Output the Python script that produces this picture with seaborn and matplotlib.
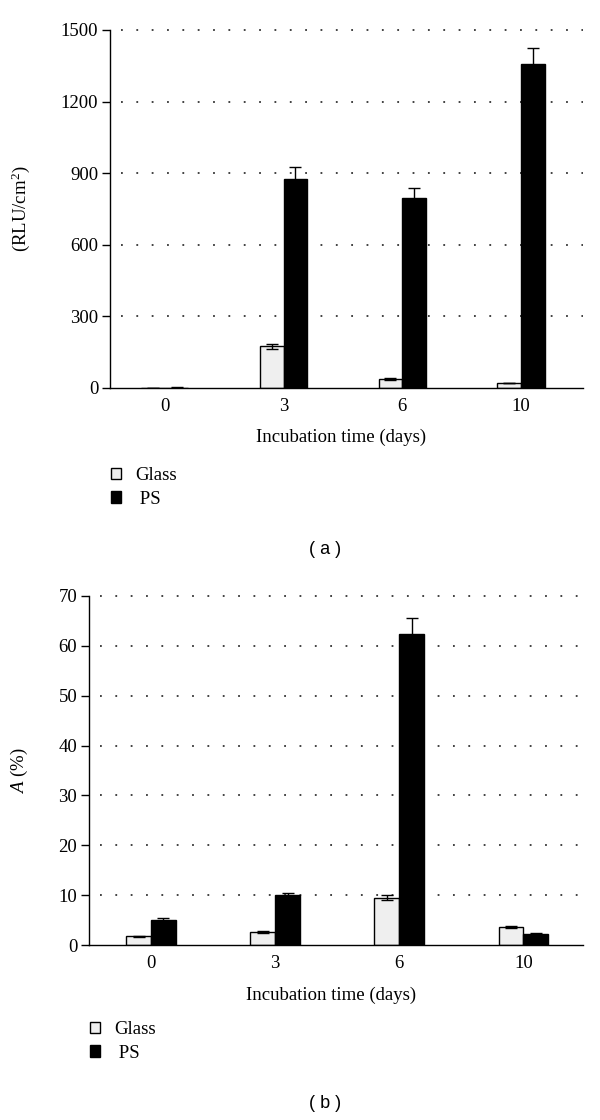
import numpy as np
import pandas as pd
import matplotlib
matplotlib.use("Agg")
import matplotlib.pyplot as plt
import seaborn as sns
from matplotlib.patches import Patch

# ---- data ----
days = ["0", "3", "6", "10"]
materials = ["Glass", "PS"]

rlu_glass = [1, 174, 38, 21]
rlu_glass_err = [1, 11, 4, 2]
rlu_ps = [2, 876, 797, 1356]
rlu_ps_err = [1, 48, 43, 70]

a_glass = [1.75, 2.6, 9.5, 3.55]
a_glass_err = [0.1, 0.15, 0.5, 0.2]
a_ps = [5.0, 9.95, 62.4, 2.25]
a_ps_err = [0.35, 0.55, 3.2, 0.2]

yticks_a = [0, 300, 600, 900, 1200, 1500]
yticks_b = [0, 10, 20, 30, 40, 50, 60, 70]
xlabel_text = "Incubation time (days)"
ylabel_a = r"(RLU/cm$^2$)"
ylabel_b = r"$A$ (%)"
panel_a = "( a )"
panel_b = "( b )"

colors = {"Glass": "#efefef", "PS": "#000000"}

sns.set_theme(style="white")
plt.rcParams["font.family"] = ["Liberation Serif", "DejaVu Serif"]
plt.rcParams["mathtext.fontset"] = "custom"
plt.rcParams["mathtext.rm"] = "Liberation Serif"
plt.rcParams["mathtext.it"] = "Liberation Serif:italic"
for k in ["text.color", "axes.labelcolor", "xtick.color", "ytick.color"]:
    plt.rcParams[k] = "black"

FS = 13.5

fig = plt.figure(figsize=(6, 11.2), dpi=100)
W, H = 600, 1120


def axes_px(left, right, top, bottom):
    return fig.add_axes([left / W, 1 - bottom / H, (right - left) / W, (bottom - top) / H])


def draw(ax, glass, gerr, ps, perr, yticks, ylabel, xlim, width_px):
    df = pd.DataFrame({
        "day": days * 2,
        "material": ["Glass"] * len(days) + ["PS"] * len(days),
        "value": list(glass) + list(ps),
    })
    sns.barplot(data=df, x="day", y="value", hue="material", order=days,
                hue_order=materials, palette=colors, width=0.4, gap=0,
                edgecolor="black", linewidth=1.0, errorbar=None, legend=False,
                saturation=1, ax=ax)
    for cont, vals, errs in zip(ax.containers, [glass, ps], [gerr, perr]):
        xs = [b.get_x() + b.get_width() / 2 for b in cont]
        ax.errorbar(xs, vals, yerr=errs, fmt="none", ecolor="black",
                    elinewidth=1.0, capsize=4, capthick=1.0, zorder=3)
    ax.set_xlim(*xlim)
    ax.set_ylim(yticks[0], yticks[-1])
    ax.set_yticks(yticks)
    ax.set_yticklabels([str(t) for t in yticks], fontsize=FS)
    ax.set_xticks(range(len(days)))
    ax.set_xticklabels(days, fontsize=FS)
    ax.grid(False)
    for t in yticks[1:]:
        ax.axhline(t, xmin=11 / width_px, xmax=1, linestyle=(0, (1, 7.5)),
                   color="#333333", linewidth=1.3, zorder=0.5, clip_on=False)
    for s in ["top", "right"]:
        ax.spines[s].set_visible(False)
    for s in ["left", "bottom"]:
        ax.spines[s].set_color("black")
        ax.spines[s].set_linewidth(1.0)
    ax.tick_params(axis="y", direction="out", length=5.5, width=1.0,
                   color="black", pad=3, left=True)
    ax.tick_params(axis="x", length=0, pad=7)
    ax.set_xlabel("")
    ax.set_ylabel(ylabel, fontsize=FS)
    ax.set_facecolor("white")


# panel a
ax1 = axes_px(110, 583, 30, 388)
draw(ax1, rlu_glass, rlu_glass_err, rlu_ps, rlu_ps_err, yticks_a, ylabel_a,
     (-0.46, 3.52), 473)
ax1.yaxis.set_label_coords(-0.165, 0.5)

# panel b
ax2 = axes_px(89, 583, 596, 945)
draw(ax2, a_glass, a_glass_err, a_ps, a_ps_err, yticks_b, ylabel_b,
     (-0.5, 3.48), 494)
ax2.yaxis.set_label_coords(-0.12, 0.5)

# x labels
fig.text(341 / W, 1 - 437 / H, xlabel_text, fontsize=FS, ha="center", va="center")
fig.text(331 / W, 1 - 995 / H, xlabel_text, fontsize=FS, ha="center", va="center")

# legends
handles = [Patch(facecolor=colors[m], edgecolor="black", linewidth=1.0, label=m)
           for m in materials]
for x0, ytop in [(111, 467), (90, 1021)]:
    fig.legend(handles=handles, labels=["Glass", " PS"], loc="upper left",
               bbox_to_anchor=(x0 / W, 1 - ytop / H), frameon=False,
               fontsize=FS, handlelength=0.55, handleheight=0.55,
               handletextpad=0.75, labelspacing=0.35, borderpad=0,
               borderaxespad=0)

# panel letters
fig.text(325 / W, 1 - 550 / H, panel_a, fontsize=13, ha="center", va="center",
         family="Liberation Sans")
fig.text(325 / W, 1 - 1104 / H, panel_b, fontsize=13, ha="center", va="center",
         family="Liberation Sans")

fig.savefig("out.png", dpi=100, facecolor="white")
